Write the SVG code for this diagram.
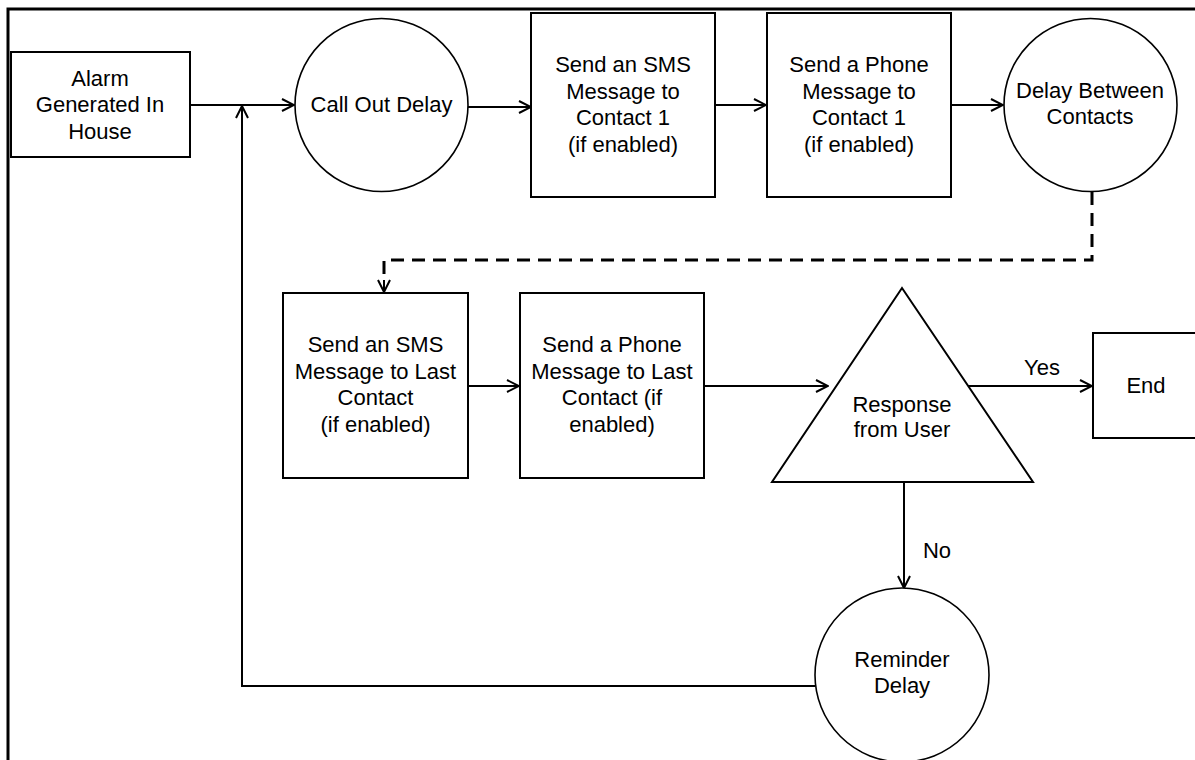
<svg xmlns="http://www.w3.org/2000/svg" width="1195" height="760" viewBox="0 0 1195 760">
<style>
.n{fill:#fff;stroke:#000;stroke-width:2}
.c{fill:#fff;stroke:#000;stroke-width:1.6}
text{font-family:"Liberation Sans",Arial,sans-serif;font-size:22px;fill:#000;text-anchor:middle}
.e{fill:none;stroke:#000;stroke-width:2}
.d{fill:none;stroke:#000;stroke-width:3;stroke-dasharray:13 8}
</style>
<defs>
<marker id="a" viewBox="0 0 14 14" refX="13" refY="7" markerWidth="14" markerHeight="14" markerUnits="userSpaceOnUse" orient="auto">
<path d="M1,1 L13,7 L1,13" fill="none" stroke="#000" stroke-width="2"/>
</marker>
</defs>
<rect x="0" y="0" width="1195" height="760" fill="#fff"/>
<rect x="8" y="9" width="1200" height="760" fill="none" stroke="#000" stroke-width="3"/>
<g id="connectors">
<path class="e" d="M190,105 H294" marker-end="url(#a)"/>
<path class="e" d="M815,686 H242 V106" marker-end="url(#a)"/>
<path class="e" d="M468,107 H531" marker-end="url(#a)"/>
<path class="e" d="M715,105 H766" marker-end="url(#a)"/>
<path class="e" d="M951,105 H1003" marker-end="url(#a)"/>
<path class="d" d="M1092,192 V260 H384 V282"/>
<path class="e" d="M384,280 V292" marker-end="url(#a)"/>
<path class="e" d="M468,386 H519" marker-end="url(#a)"/>
<path class="e" d="M704,386 H828" marker-end="url(#a)"/>
<path class="e" d="M968,386 H1092" marker-end="url(#a)"/>
<path class="e" d="M904,482 V588" marker-end="url(#a)"/>
<text x="1042" y="375">Yes</text>
<text x="937" y="558">No</text>
</g>
<g id="alarm">
<rect class="n" x="11" y="52" width="179" height="105"/>
<text x="100" y="86">Alarm</text>
<text x="100" y="112">Generated In</text>
<text x="100" y="139">House</text>
</g>
<g id="calloutdelay">
<circle class="c" cx="381.5" cy="105" r="86.5"/>
<text x="381.5" y="112">Call Out Delay</text>
</g>
<g id="sms1">
<rect class="n" x="531" y="13" width="184" height="184"/>
<text x="623" y="72">Send an SMS</text>
<text x="623" y="98.5">Message to</text>
<text x="623" y="125">Contact 1</text>
<text x="623" y="151.5">(if enabled)</text>
</g>
<g id="phone1">
<rect class="n" x="767" y="13" width="184" height="184"/>
<text x="859" y="72">Send a Phone</text>
<text x="859" y="98.5">Message to</text>
<text x="859" y="125">Contact 1</text>
<text x="859" y="151.5">(if enabled)</text>
</g>
<g id="delaybetween">
<circle class="c" cx="1090.5" cy="105" r="86.5"/>
<text x="1090" y="98">Delay Between</text>
<text x="1090" y="124">Contacts</text>
</g>
<g id="smslast">
<rect class="n" x="283" y="293" width="185" height="185"/>
<text x="375.5" y="352">Send an SMS</text>
<text x="375.5" y="378.5">Message to Last</text>
<text x="375.5" y="405">Contact</text>
<text x="375.5" y="431.5">(if enabled)</text>
</g>
<g id="phonelast">
<rect class="n" x="520" y="293" width="184" height="185"/>
<text x="612" y="352">Send a Phone</text>
<text x="612" y="378.5">Message to Last</text>
<text x="612" y="405">Contact (if</text>
<text x="612" y="431.5">enabled)</text>
</g>
<g id="response">
<path class="n" d="M902,288 L1033,482 L772,482 Z"/>
<text x="902" y="412">Response</text>
<text x="902" y="437">from User</text>
</g>
<g id="end">
<rect class="n" x="1093" y="333" width="106" height="105"/>
<text x="1146" y="393">End</text>
</g>
<g id="reminder">
<circle class="c" cx="902" cy="675" r="87"/>
<text x="902" y="667">Reminder</text>
<text x="902" y="693">Delay</text>
</g>
</svg>
